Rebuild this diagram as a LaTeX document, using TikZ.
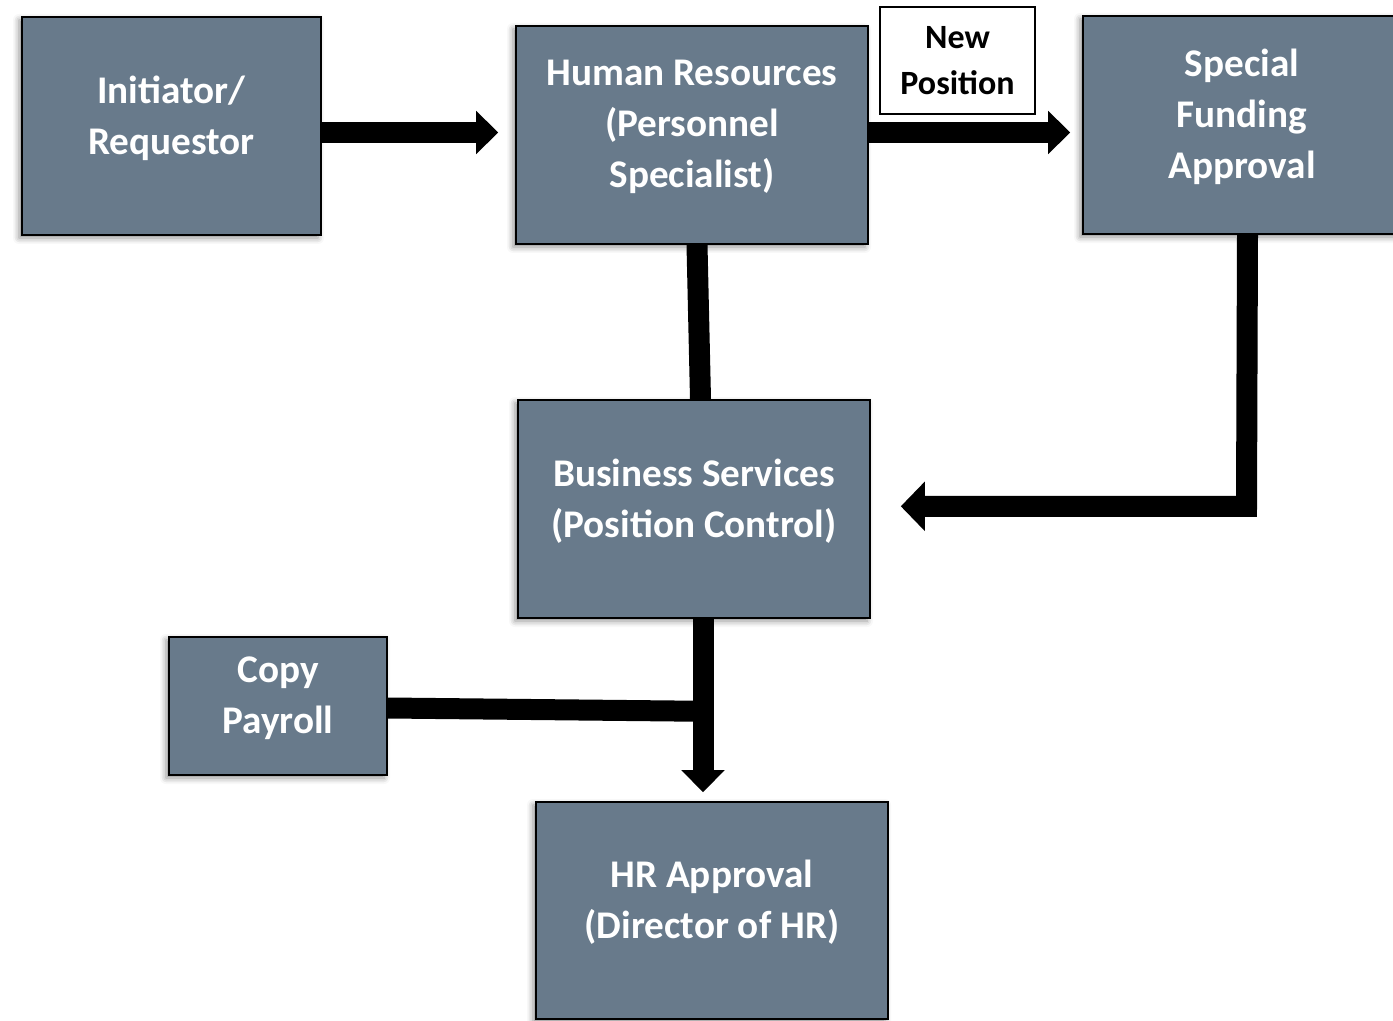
\documentclass[tikz,border=0pt]{standalone}
\usepackage{fontspec}
\setmainfont{Carlito}
\usetikzlibrary{arrows.meta,calc,shadows.blur}
\definecolor{slate}{RGB}{104,122,139}
\tikzset{
  box/.style={draw=black, line width=0.8pt, fill=slate, text=white,
    font=\fontsize{19.6}{25.5}\selectfont\bfseries, align=center, inner sep=0pt,
    text depth=11pt,
    blur shadow={shadow xshift=-1.5pt, shadow yshift=-1.5pt,
                 shadow blur radius=3pt, shadow opacity=45}},
  tag/.style={draw=black, line width=0.6pt, fill=white,
    font=\fontsize{17}{23}\selectfont\bfseries, align=center, inner sep=0pt},
  conn/.style={line width=10.5pt, black, line join=miter},
  arr/.style={conn, -{Triangle[width=21pt,length=11pt]}},
  bigarr/.style={conn, -{Triangle[width=24pt,length=12pt]}},
}
\begin{document}
\begin{tikzpicture}[x=0.5pt,y=-0.5pt]
  \useasboundingbox (0,0) rectangle (1393,1021);

  % process boxes
  \node[box, minimum width=149.5pt, minimum height=109pt] (init) at (171.5,126) {Initiator/\\Requestor};
  \node[box, minimum width=176pt, minimum height=109pt] (hr) at (692,135) {Human Resources\\(Personnel\\Specialist)};
  \node[box, minimum width=159pt, minimum height=109pt] (sf) at (1242,125) {Special\\Funding\\Approval};
  \node[box, minimum width=176pt, minimum height=109pt] (bs) at (694,509) {Business Services\\(Position Control)};
  \node[box, minimum width=109pt, minimum height=69pt] (cp) at (278,706) {Copy\\Payroll};
  \node[box, minimum width=176pt, minimum height=108.5pt] (hra) at (712,910.5) {HR Approval\\(Director of HR)};

  % label on the new-position path
  \node[tag, minimum width=77.5pt, minimum height=53.5pt] (np) at (957.5,60.5) {New\\Position};

  % connectors
  \draw[arr, shorten >=8.5pt] ($(init.east)+(0,6.5)$) -- ($(hr.west)+(0,-2.5)$);
  \draw[arr, shorten >=6pt] ($(hr.east)+(0,-2.5)$) -- ($(sf.west)+(0,7.5)$);
  \draw[conn] ($(hr.south)+(5,0)$) -- ($(bs.north)+(6.5,0)$);
  \coordinate (bend) at ($(sf.south)+(4.5,271.5)$);
  \draw[bigarr, shorten >=15pt] ($(sf.south)+(5.5,0)$) -- (bend) -- (bs.east |- bend);
  \coordinate (join) at ($(bs.south)+(9,92.5)$);
  \draw[arr, shorten >=4.5pt] ($(bs.south)+(9,0)$) -- ($(hra.north)+(-9,0)$);
  \draw[conn] ($(cp.east)+(0,2)$) -- (join);
\end{tikzpicture}
\end{document}
